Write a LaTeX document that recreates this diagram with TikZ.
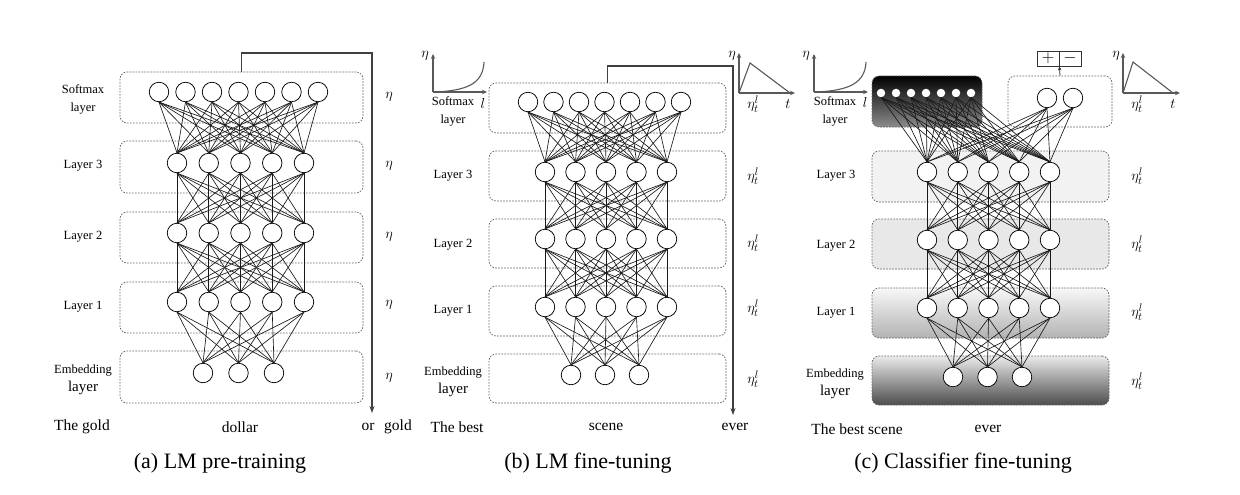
\documentclass[tikz,border=0pt]{standalone}
\usepackage{fontspec}
\setmainfont{Liberation Serif}
\usetikzlibrary{arrows.meta}
\begin{document}
\begin{tikzpicture}[x=1pt,y=-1pt,
 box/.style={draw=black!60, dash pattern=on 1.6pt off 1.4pt, rounded corners=7pt, line width=0.75pt, inner sep=0pt},
 neu/.style={circle, draw=black, fill=white, line width=0.75pt, minimum size=19.5pt, inner sep=0pt},
 sneu/.style={circle, fill=white, minimum size=8.5pt, inner sep=0pt},
 conn/.style={line width=0.65pt, black!90},
 lbl/.style={font=\fontsize{12.5}{18}\selectfont, align=center, inner sep=0pt},
 word/.style={font=\fontsize{15.5}{18}\selectfont, inner sep=0pt},
 capt/.style={font=\fontsize{22}{24}\selectfont, inner sep=0pt},
 eta/.style={font=\fontsize{15}{16}\selectfont, inner sep=0pt},
 flow/.style={line width=1.1pt, black!75, -{Stealth[length=7pt,width=5pt]}},
 axis/.style={line width=1.3pt, black!65, -{Stealth[length=5pt,width=4.5pt]}},
 curve/.style={line width=1.1pt, black!65},
]
\useasboundingbox (0,0) rectangle (1240,495);

%% ================= Panel (a) =================
\node[box, minimum width=243pt, minimum height=51pt] (aBS) at (241.5,97.5) {};
\node[box, minimum width=243pt, minimum height=52pt] (aB3) at (241.5,167) {};
\node[box, minimum width=243pt, minimum height=51pt] (aB2) at (241.5,237.5) {};
\node[box, minimum width=243pt, minimum height=51pt] (aB1) at (241.5,307.5) {};
\node[box, minimum width=243pt, minimum height=52pt] (aBE) at (241.5,377) {};

\foreach \i in {0,...,6} \node[neu] (aS\i) at ({159+26.5*\i},92) {};
\foreach \i in {0,...,4} {
  \node[neu] (a3\i) at ({177+31.75*\i},163) {};
  \node[neu] (a2\i) at ({177+31.75*\i},233) {};
  \node[neu] (a1\i) at ({177+31.75*\i},302) {};
}
\foreach \i in {0,1,2} \node[neu] (aE\i) at ({203+35.5*\i},373) {};

\foreach \i in {0,...,6} \foreach \j in {0,...,4} \draw[conn] (aS\i.south) -- (a3\j.north);
\foreach \i in {0,...,4} \foreach \j in {0,...,4} {
  \draw[conn] (a3\i.south) -- (a2\j.north);
  \draw[conn] (a2\i.south) -- (a1\j.north);
}
\foreach \i in {0,...,4} \foreach \j in {0,1,2} \draw[conn] (a1\i.south) -- (aE\j.north);

\node[lbl] (aLS) at (83,99) {Softmax\\layer};
\node[lbl] (aL3) at (83,166) {Layer 3};
\node[lbl] (aL2) at (83,237) {Layer 2};
\node[lbl] (aL1) at (83,307) {Layer 1};
\node[lbl] (aLE) at (83,380) {Embedding\\{\fontsize{15}{18}\selectfont layer}};

\node[eta] (aH1) at (389,97) {$\eta$};
\node[eta] (aH2) at (389,166) {$\eta$};
\node[eta] (aH3) at (389,237) {$\eta$};
\node[eta] (aH4) at (389,305) {$\eta$};
\node[eta] (aH5) at (389,378) {$\eta$};

\coordinate (aTurn) at (372,53);
\coordinate (aEnd) at (372,413);
\draw[flow] (aBS.north) |- (aTurn) -- (aEnd);

\node[word] (aW1) at (82,427) {The gold};
\node[word] (aW2) at (240,427) {dollar};
\node[word] (aW3) at (368,427) {or};
\node[word] (aW4) at (398,427) {gold};
\node[capt] (aCap) at (220,463) {(a) LM pre-training};

%% ================= Panel (b) =================
\node[box, minimum width=237pt, minimum height=50pt] (bBS) at (607.5,108) {};
\node[box, minimum width=237pt, minimum height=50pt] (bB3) at (607.5,176) {};
\node[box, minimum width=237pt, minimum height=49pt] (bB2) at (607.5,243.5) {};
\node[box, minimum width=237pt, minimum height=50pt] (bB1) at (607.5,311) {};
\node[box, minimum width=237pt, minimum height=49pt] (bBE) at (607.5,378.5) {};

\foreach \i in {0,...,6} \node[neu] (bS\i) at ({528+25.5*\i},102) {};
\foreach \i in {0,...,4} {
  \node[neu] (b3\i) at ({545+30.5*\i},172) {};
  \node[neu] (b2\i) at ({545+30.5*\i},239) {};
  \node[neu] (b1\i) at ({545+30.5*\i},307) {};
}
\foreach \i in {0,1,2} \node[neu] (bE\i) at ({571+34*\i},375) {};

\foreach \i in {0,...,6} \foreach \j in {0,...,4} \draw[conn] (bS\i.south) -- (b3\j.north);
\foreach \i in {0,...,4} \foreach \j in {0,...,4} {
  \draw[conn] (b3\i.south) -- (b2\j.north);
  \draw[conn] (b2\i.south) -- (b1\j.north);
}
\foreach \i in {0,...,4} \foreach \j in {0,1,2} \draw[conn] (b1\i.south) -- (bE\j.north);

\node[lbl] (bLS) at (453,111) {Softmax\\layer};
\node[lbl] (bL3) at (453,176) {Layer 3};
\node[lbl] (bL2) at (453,245) {Layer 2};
\node[lbl] (bL1) at (453,311) {Layer 1};
\node[lbl] (bLE) at (453,382) {Embedding\\{\fontsize{15}{18}\selectfont layer}};

\node[eta] (bH0) at (753,104) {$\eta_t^l$};
\node[eta] (bH1) at (753,176) {$\eta_t^l$};
\node[eta] (bH2) at (753,243) {$\eta_t^l$};
\node[eta] (bH3) at (753,308) {$\eta_t^l$};
\node[eta] (bH4) at (753,379) {$\eta_t^l$};

\coordinate (bTurn) at (733,66);
\coordinate (bEnd) at (733,415);
\draw[flow] (bBS.north) |- (bTurn) -- (bEnd);

% left graph (b)
\coordinate (bO1) at (433,92);
\coordinate (bY1) at (433,54);
\coordinate (bX1) at (487,92);
\draw[axis] (bO1) -- (bY1);
\draw[axis] (bO1) -- (bX1);
\draw[curve] (bO1) .. controls (470,91) and (483,82) .. (484,62);
\node[eta] (bGe1) at (425,56) {$\eta$};
\node[eta] (bGl1) at (483,103) {$l$};
% right graph (b)
\coordinate (bO2) at (739,93);
\coordinate (bY2) at (739,53);
\coordinate (bX2) at (795,93);
\draw[axis] (bO2) -- (bY2);
\draw[axis] (bO2) -- (bX2);
\draw[curve] (bO2) -- (750,63) -- (790,93);
\node[eta] (bGe2) at (732,56) {$\eta$};
\node[eta] (bGt2) at (788,104) {$t$};

\node[word] (bW1) at (457,427) {The best};
\node[word] (bW2) at (606,427) {scene};
\node[word] (bW3) at (735,427) {ever};
\node[capt] (bCap) at (588,463) {(b) LM fine-tuning};

%% ================= Panel (c) =================
\node[box, minimum width=110pt, minimum height=51pt, top color=black, bottom color=black!45, draw=black!60] (cBS) at (927,101.5) {};
\node[box, minimum width=104pt, minimum height=51pt] (cBC) at (1060,101.5) {};
\node[box, minimum width=237pt, minimum height=51pt, fill=black!5] (cB3) at (990.5,176.5) {};
\node[box, minimum width=237pt, minimum height=50pt, fill=black!9] (cB2) at (990.5,244) {};
\node[box, minimum width=237pt, minimum height=50pt, top color=black!3, bottom color=black!30] (cB1) at (990.5,313) {};
\node[box, minimum width=237pt, minimum height=49pt, top color=black!8, bottom color=black!70] (cBE) at (990.5,380.5) {};

\foreach \i in {0,...,6} \node[sneu] (cS\i) at ({881+15*\i},93) {};
\node[neu] (cC0) at (1047,98) {};
\node[neu] (cC1) at (1073,98) {};
\foreach \i in {0,...,4} {
  \node[neu] (c3\i) at ({927+30.75*\i},172) {};
  \node[neu] (c2\i) at ({927+30.75*\i},240) {};
  \node[neu] (c1\i) at ({927+30.75*\i},308) {};
}
\foreach \i in {0,1,2} \node[neu] (cE\i) at ({953+34.5*\i},377) {};

\foreach \i in {0,...,6} \foreach \j in {0,...,4} \draw[conn] (cS\i.south) -- (c3\j.north);
\foreach \i in {0,1} \foreach \j in {0,...,4} \draw[conn] (cC\i.south) -- (c3\j.north);
\foreach \i in {0,...,4} \foreach \j in {0,...,4} {
  \draw[conn] (c3\i.south) -- (c2\j.north);
  \draw[conn] (c2\i.south) -- (c1\j.north);
}
\foreach \i in {0,...,4} \foreach \j in {0,1,2} \draw[conn] (c1\i.south) -- (cE\j.north);

\node[draw=black!80, line width=0.8pt, minimum width=22pt, minimum height=15pt, inner sep=0pt, font=\fontsize{16}{16}\selectfont] (cPlus) at (1048,58.5) {$+$};
\node[draw=black!80, line width=0.8pt, minimum width=22pt, minimum height=15pt, inner sep=0pt, font=\fontsize{16}{16}\selectfont] (cMinus) at (1070,58.5) {$-$};
\draw[line width=0.8pt, black!80, -{Stealth[length=4pt,width=3.5pt]}] (cBC.north) -- (cPlus.south east);

\node[lbl] (cLS) at (835,111) {Softmax\\layer};
\node[lbl] (cL3) at (836,176) {Layer 3};
\node[lbl] (cL2) at (836,246) {Layer 2};
\node[lbl] (cL1) at (836,313) {Layer 1};
\node[lbl] (cLE) at (835,384) {Embedding\\{\fontsize{15}{18}\selectfont layer}};

\node[eta] (cH0) at (1137,104) {$\eta_t^l$};
\node[eta] (cH1) at (1137,176) {$\eta_t^l$};
\node[eta] (cH2) at (1137,244) {$\eta_t^l$};
\node[eta] (cH3) at (1137,312) {$\eta_t^l$};
\node[eta] (cH4) at (1137,381) {$\eta_t^l$};

% left graph (c)
\coordinate (cO1) at (814,92);
\coordinate (cY1) at (814,54);
\coordinate (cX1) at (868,92);
\draw[axis] (cO1) -- (cY1);
\draw[axis] (cO1) -- (cX1);
\draw[curve] (cO1) .. controls (851,91) and (865,82) .. (866,62);
\node[eta] (cGe1) at (806,56) {$\eta$};
\node[eta] (cGl1) at (865,102) {$l$};
% right graph (c)
\coordinate (cO2) at (1123,93);
\coordinate (cY2) at (1123,53);
\coordinate (cX2) at (1180,93);
\draw[axis] (cO2) -- (cY2);
\draw[axis] (cO2) -- (cX2);
\draw[curve] (cO2) -- (1133,62) -- (1173,93);
\node[eta] (cGe2) at (1116,56) {$\eta$};
\node[eta] (cGt2) at (1173,104) {$t$};

\node[word] (cW1) at (857,429) {The best scene};
\node[word] (cW2) at (988,429) {ever};
\node[capt] (cCap) at (963,463) {(c) Classifier fine-tuning};
\end{tikzpicture}
\end{document}
